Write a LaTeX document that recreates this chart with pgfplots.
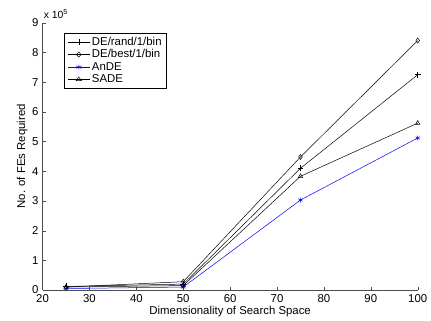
\documentclass[border=0pt]{standalone}
\usepackage{pgfplots}
\pgfplotsset{compat=1.18}
\usepackage{fontspec}
\setmainfont{Liberation Sans}
\begin{document}
\begin{tikzpicture}
\fontsize{11.5}{13}\selectfont
\begin{axis}[
  at={(0,0)}, anchor=south west,
  scale only axis, width=379pt, height=270pt,
  xmin=20, xmax=100, ymin=0, ymax=9,
  xtick={20,30,...,100}, ytick={0,1,...,9},
  axis x line*=bottom, axis y line*=left,
  axis line style={black!70, line width=0.6pt},
  tick align=inside, major tick length=3pt,
  tick style={black!70},
  /pgf/number format/assume math mode=true,
  ticklabel style={font=\fontsize{11.5}{13}\selectfont},
  xticklabel style={yshift=-1pt},
  label style={font=\fontsize{11.5}{13}\selectfont},
  xlabel={Dimensionality of Search Space},
  ylabel={No. of FEs Required},
  xlabel style={yshift=5pt},
  ylabel style={yshift=-3pt},
  legend style={at={(0.058,0.963)}, anchor=north west, draw=black, line width=0.5pt,
    font=\fontsize{11.5}{13}\selectfont, inner xsep=3pt, inner ysep=2pt, row sep=-1.2pt},
  legend image post style={xscale=1.3},
  legend cell align=left,
  every axis plot/.append style={line width=0.5pt},
  clip=false,
]
\addplot[black, mark=+, mark size=3pt] coordinates {(25,0.12) (50,0.2) (75,4.1) (100,7.25)};
\addlegendentry{DE/rand/1/bin}
\addplot[black, mark=diamond, mark size=2.5pt] coordinates {(25,0.1) (50,0.28) (75,4.48) (100,8.4)};
\addlegendentry{DE/best/1/bin}
\addplot[blue, mark=asterisk, mark size=2.5pt] coordinates {(25,0.05) (50,0.1) (75,3.03) (100,5.12)};
\addlegendentry{AnDE}
\addplot[black, mark=triangle, mark size=2.5pt] coordinates {(25,0.1) (50,0.15) (75,3.83) (100,5.62)};
\addlegendentry{SADE}
\node[anchor=south west, inner sep=0pt, font=\fontsize{10.5}{12}\selectfont] at (rel axis cs:0,1) [yshift=4pt, xshift=1pt] {x 10$^{\mathrm{5}}$};
\end{axis}
\path[use as bounding box] (-43pt,-30pt) rectangle (388pt,293pt);
\end{tikzpicture}
\end{document}
